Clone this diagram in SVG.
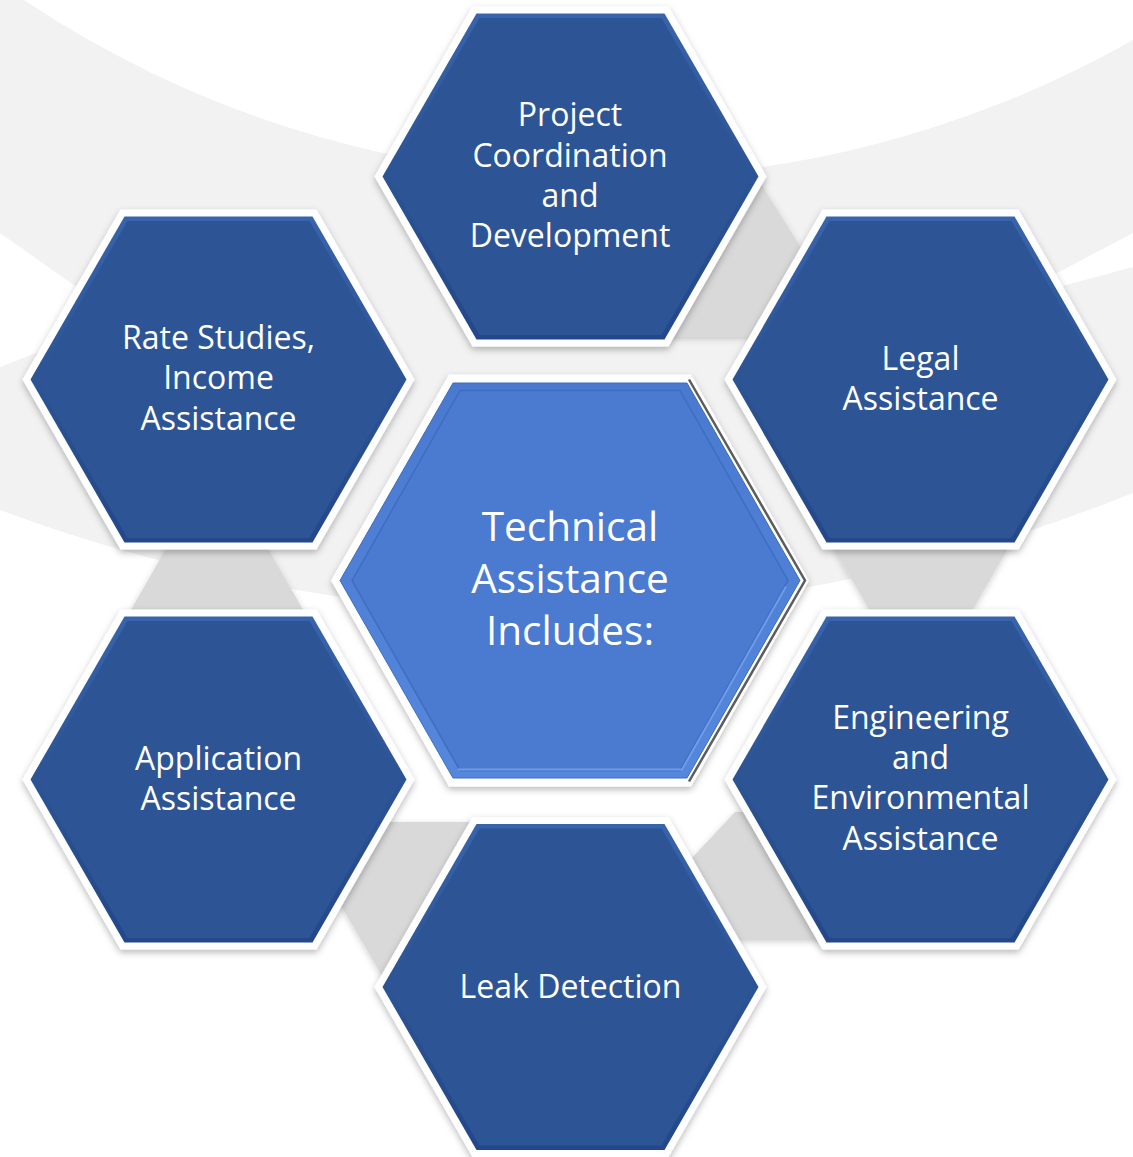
<svg xmlns="http://www.w3.org/2000/svg" width="1133" height="1157" viewBox="0 0 1133 1157">
<defs>
<style>
.lbl{font-family:"Open Sans","Liberation Sans",sans-serif;fill:#ffffff;text-anchor:middle;font-size:32px}
.clbl{font-size:40.5px}
.conn{fill:#d9d9d9}
.wb{fill:#ffffff}
.ob{fill:url(#bev)}
.ib{fill:#2d5596}
</style>
<filter id="sh" x="-15%" y="-15%" width="130%" height="135%">
<feDropShadow dx="0" dy="3" stdDeviation="3.5" flood-color="#000000" flood-opacity="0.28"/>
</filter>
<filter id="csh" x="-15%" y="-15%" width="130%" height="135%">
<feDropShadow dx="0" dy="2" stdDeviation="3" flood-color="#000000" flood-opacity="0.18"/>
</filter>
<linearGradient id="bev" x1="0" y1="0" x2="0" y2="1">
<stop offset="0" stop-color="#3864ac"/>
<stop offset="0.5" stop-color="#2c5394"/>
<stop offset="1" stop-color="#23478a"/>
</linearGradient>
<linearGradient id="cbev" x1="0" y1="0" x2="0" y2="1">
<stop offset="0" stop-color="#4a7ad0"/>
<stop offset="1" stop-color="#5587dc"/>
</linearGradient>
<polygon id="hw" points="-196,0 -98,-170 98,-170 196,0 98,170 -98,170"/>
<polygon id="hb" points="-188,0 -94,-163 94,-163 188,0 94,163 -94,163"/>
<polygon id="hi" points="-183,0 -91,-158.5 91,-158.5 183,0 91,158.5 -91,158.5"/>
</defs>

<g id="background">
<rect x="0" y="0" width="1133" height="1157" fill="#ffffff"/>
<path d="M0,0 L24,0 A1058,1058 0 0,0 1133,40 L1133,493 Q566,720 0,510 Z" fill="#f2f2f2"/>
<polygon points="0,233 95,300 95,330 0,367" fill="#ffffff"/>
<polygon points="1133,233 1133,267 1040,292 1040,282" fill="#ffffff"/>
</g>

<g id="connectors">
<polygon class="conn" filter="url(#csh)" points="171,540 263,540 309,620 125,620"/>
<polygon class="conn" filter="url(#csh)" points="829,540 1013,540 967,620 875,620"/>
<polygon class="conn" filter="url(#csh)" points="690,160 746,160 840,310 790,337 660,337"/>
<polygon class="conn" filter="url(#csh)" points="360,822 500,822 500,1000 396,1000 320,870"/>
<polygon class="conn" filter="url(#csh)" points="735,812 800,812 850,940 720,940 690,860"/>
</g>

<g id="node-project">
<g transform="translate(570.5,176.5)">
<use href="#hw" class="wb" filter="url(#sh)"/>
<use href="#hb" class="ob"/>
<use href="#hi" class="ib"/>
</g>
<text class="lbl" x="570" y="126">Project</text>
<text class="lbl" x="570" y="166.5">Coordination</text>
<text class="lbl" x="570" y="207">and</text>
<text class="lbl" x="570" y="247">Development</text>
</g>

<g id="node-legal">
<g transform="translate(920.5,379.5)">
<use href="#hw" class="wb" filter="url(#sh)"/>
<use href="#hb" class="ob"/>
<use href="#hi" class="ib"/>
</g>
<text class="lbl" x="920.5" y="369.5">Legal</text>
<text class="lbl" x="920.5" y="410">Assistance</text>
</g>

<g id="node-engineering">
<g transform="translate(920.5,779.5)">
<use href="#hw" class="wb" filter="url(#sh)"/>
<use href="#hb" class="ob"/>
<use href="#hi" class="ib"/>
</g>
<text class="lbl" x="920.5" y="729">Engineering</text>
<text class="lbl" x="920.5" y="769">and</text>
<text class="lbl" x="920.5" y="809">Environmental</text>
<text class="lbl" x="920.5" y="849.5">Assistance</text>
</g>

<g id="node-leak">
<g transform="translate(570.5,987)">
<use href="#hw" class="wb" filter="url(#sh)"/>
<use href="#hb" class="ob"/>
<use href="#hi" class="ib"/>
</g>
<text class="lbl" x="570.5" y="998">Leak Detection</text>
</g>

<g id="node-application">
<g transform="translate(218.5,779.5)">
<use href="#hw" class="wb" filter="url(#sh)"/>
<use href="#hb" class="ob"/>
<use href="#hi" class="ib"/>
</g>
<text class="lbl" x="218.5" y="770">Application</text>
<text class="lbl" x="218.5" y="810">Assistance</text>
</g>

<g id="node-rate">
<g transform="translate(218.5,379.5)">
<use href="#hw" class="wb" filter="url(#sh)"/>
<use href="#hb" class="ob"/>
<use href="#hi" class="ib"/>
</g>
<text class="lbl" x="218.5" y="348.5">Rate Studies,</text>
<text class="lbl" x="218.5" y="389">Income</text>
<text class="lbl" x="218.5" y="429.5">Assistance</text>
</g>

<g id="node-center">
<g transform="translate(570,580.5)">
<polygon points="-239,0 -121,-206 121,-206 239,0 121,206 -121,206" fill="#ffffff" filter="url(#sh)"/>
<polyline points="119,-201 235,0 119,201" fill="none" stroke="#5c5c5c" stroke-width="2.5"/>
<polygon points="-230,0 -117,-197.5 117,-197.5 230,0 117,197.5 -117,197.5" fill="url(#cbev)" stroke="#3e6cbc" stroke-width="1"/>
<polygon points="-218,0 -110,-190 110,-190 218,0 110,190 -110,190" fill="#4a7bd0" stroke="#3f6dbf" stroke-width="1.5"/>
<polyline points="-112,189 112,189 216,6" fill="none" stroke="#6f9ce8" stroke-width="2"/>
</g>
<text class="lbl clbl" x="570" y="540.5">Technical</text>
<text class="lbl clbl" x="570" y="592.5">Assistance</text>
<text class="lbl clbl" x="570" y="645">Includes:</text>
</g>
</svg>
